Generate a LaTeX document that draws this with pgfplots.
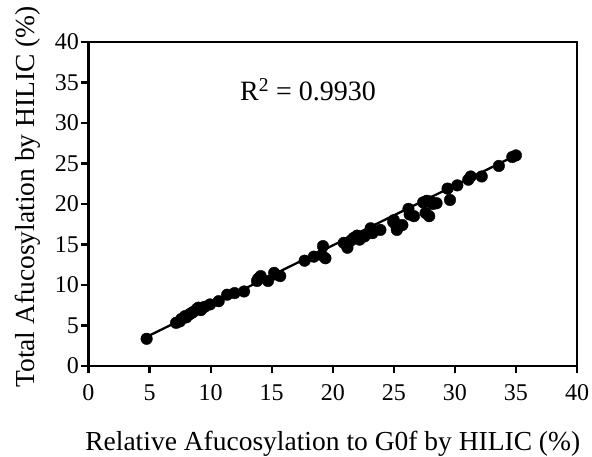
\documentclass[border=0pt]{standalone}
\usepackage{pgfplots}
\pgfplotsset{compat=1.18}
\usepackage{fontspec}
\setmainfont{Liberation Serif}
\begin{document}
\begin{tikzpicture}
\useasboundingbox (0,0) rectangle (592pt,456pt);
\begin{axis}[
  at={(88.5pt,90pt)}, anchor=origin,
  scale only axis, width=488.5pt, height=324pt,
  xmin=0, xmax=40, ymin=0, ymax=40,
  xtick={0,5,...,40}, ytick={0,5,...,40},
  axis line style={line width=2.6pt},
  tick style={line width=2.2pt, black},
  tick align=outside, major tick length=7pt,
  xtick pos=bottom, ytick pos=left,
  /pgf/number format/assume math mode=true,
  ticklabel style={font=\fontsize{24}{27}\selectfont},
  xticklabel style={yshift=-8pt},
  yticklabel style={xshift=1pt},
  label style={font=\fontsize{27.5}{30}\selectfont},
  xlabel={Relative Afucosylation to G0f by HILIC (\%)},
  ylabel={Total Afucosylation by HILIC (\%)},
  xlabel style={at={(axis description cs:0.5,-0.2593)}, anchor=base},
  ylabel style={at={(axis description cs:-0.1115,0.522)}, anchor=base, rotate=0},
  clip=false,
]
\addplot[black, line width=2.3pt, no marks] coordinates {(4.76,3.6) (35.0,26.0)};
\addplot[only marks, mark=*, mark size=5.8pt, black] coordinates {
(4.76,3.36) (7.17,5.33) (7.48,5.5) (7.6,5.8) (7.9,6.15) (8.25,6.36) (8.56,6.65)
(8.87,7.05) (9.2,6.9) (9.5,7.3) (9.95,7.6) (10.66,8.0) (11.35,8.8) (11.96,9.0)
(12.74,9.2) (13.8,10.5) (14.1,11.1) (14.7,10.5) (15.2,11.5) (15.7,11.1)
(17.7,13.0) (18.45,13.5) (19.2,14.8) (19.4,13.3) (20.9,15.2) (21.2,14.6)
(21.7,15.8) (22.0,16.1) (22.6,16.0) (23.1,17.0) (23.25,16.4) (23.9,16.8)
(24.95,17.8) (25.25,16.8) (25.7,17.4) (26.2,19.4) (26.3,18.7) (26.65,18.5)
(27.4,20.2) (27.6,18.9) (27.9,18.5) (28.0,20.3) (28.5,20.1) (29.4,21.9)
(29.6,20.5) (30.2,22.3) (31.1,23.0) (31.3,23.4) (32.2,23.4) (33.6,24.7)
(34.7,25.8) (35.0,26.0)
(8.0,6.0) (8.4,6.5) (9.0,7.2) (13.9,10.8) (15.3,11.3) (21.5,15.5) (21.9,15.9)
(22.2,15.6) (25.0,18.0) (25.2,17.3) (27.7,20.4) (28.2,20.0) (19.1,13.7)
};
\node[anchor=base west, font=\fontsize{28}{31}\selectfont, inner sep=0pt] at (axis cs:12.4,32.8) {R\textsuperscript{2} = 0.9930};
\end{axis}
\end{tikzpicture}
\end{document}
